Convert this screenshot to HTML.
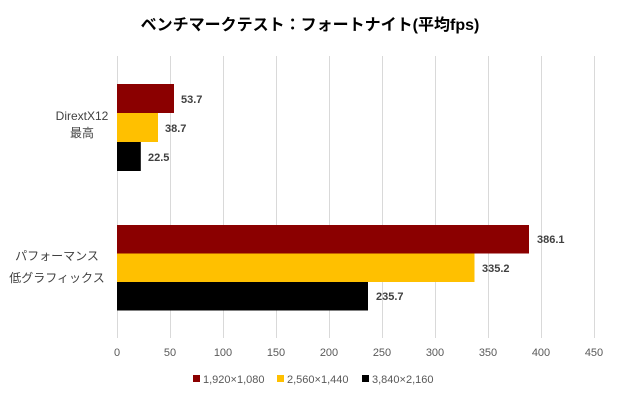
<!DOCTYPE html>
<html><head><meta charset="utf-8"><style>
body{margin:0;background:#fff}
svg{display:block;font-family:"Liberation Sans","Noto Sans CJK JP",sans-serif}
</style></head><body>
<svg width="620" height="400" viewBox="0 0 620 400" xmlns="http://www.w3.org/2000/svg">
<rect width="620" height="400" fill="#fff"/>
<text x="310" y="30" text-anchor="middle" font-size="16" font-weight="bold" fill="#000">ベンチマークテスト：フォートナイト(平均fps)</text>
<g stroke="#d9d9d9" stroke-width="1">
<line x1="117.5" y1="56" x2="117.5" y2="338"/>
<line x1="170.5" y1="56" x2="170.5" y2="338"/>
<line x1="223.5" y1="56" x2="223.5" y2="338"/>
<line x1="276.5" y1="56" x2="276.5" y2="338"/>
<line x1="329.5" y1="56" x2="329.5" y2="338"/>
<line x1="382.5" y1="56" x2="382.5" y2="338"/>
<line x1="435.5" y1="56" x2="435.5" y2="338"/>
<line x1="488.5" y1="56" x2="488.5" y2="338"/>
<line x1="541.5" y1="56" x2="541.5" y2="338"/>
<line x1="594.5" y1="56" x2="594.5" y2="338"/>
</g>
<g font-size="11" fill="#595959" text-anchor="middle">
<text x="117" y="356">0</text><text x="170" y="356">50</text><text x="223" y="356">100</text><text x="276" y="356">150</text><text x="329" y="356">200</text><text x="382" y="356">250</text><text x="435" y="356">300</text><text x="488" y="356">350</text><text x="541" y="356">400</text><text x="594" y="356">450</text>
</g>
<rect x="117" y="84" width="57" height="29" fill="#8b0000"/>
<rect x="117" y="113" width="41" height="29" fill="#ffc000"/>
<rect x="117" y="142" width="23.8" height="29" fill="#000"/>
<rect x="117" y="225" width="412" height="28.5" fill="#8b0000"/>
<rect x="117" y="253.5" width="357.5" height="28.5" fill="#ffc000"/>
<rect x="117" y="282" width="251" height="28.5" fill="#000"/>
<g font-size="11" font-weight="bold" fill="#404040">
<text x="181" y="103">53.7</text><text x="165" y="132">38.7</text><text x="148" y="161">22.5</text>
<text x="537" y="243">386.1</text><text x="482" y="272">335.2</text><text x="376" y="300">235.7</text>
</g>
<g font-size="12" fill="#404040" text-anchor="middle">
<text x="82" y="120">DirextX12</text><text x="82" y="137">最高</text>
<text x="57" y="260">パフォーマンス</text><text x="57" y="282">低グラフィックス</text>
</g>
<g font-size="11" fill="#595959">
<rect x="193" y="375" width="7" height="7" fill="#8b0000"/><text x="203" y="383">1,920×1,080</text>
<rect x="277" y="375" width="7" height="7" fill="#ffc000"/><text x="287" y="383">2,560×1,440</text>
<rect x="362" y="375" width="7" height="7" fill="#000"/><text x="372" y="383">3,840×2,160</text>
</g>
</svg>
</body></html>
